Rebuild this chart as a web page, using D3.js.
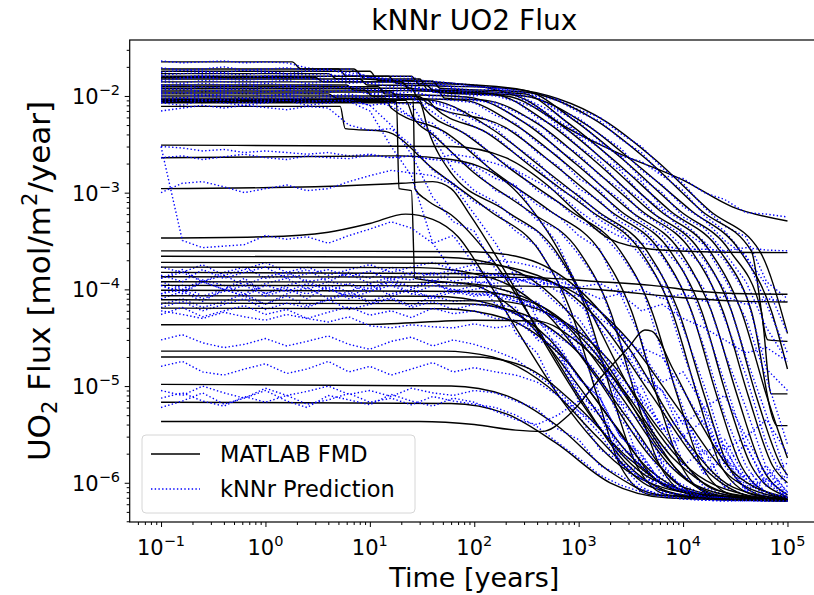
<!DOCTYPE html>
<html>
<head>
<meta charset="utf-8">
<script src="https://cdn.jsdelivr.net/npm/d3@7"></script>
<style>
  body { margin: 0; background: #fff; }
  text { font-family: "DejaVu Sans", sans-serif; fill: #000; }
</style>
</head>
<body>
<svg id="drawing_region" width="814" height="595"></svg>
<script>
// time points used by the kNNr predictions
const timeGrid = [0.1, 0.16, 0.25, 0.4, 0.63, 1, 1.6, 2.5, 4, 6.3, 10, 16, 25, 40, 63, 100, 160, 250, 400, 630,
                  1000, 1600, 2500, 4000, 6300, 1e4, 1.6e4, 2.5e4, 4e4, 6.3e4, 1e5];

// MATLAB FMD curves: [time, flux] knots
const fmdCurves = [
  [[0.1,2.25e-2],[1.8,2.25e-2],[2.2,1.9e-2],[7,1.9e-2],[9,1.5e-2],[58,1.36e-2],[140,1.2e-2],[340,8.7e-3],[660,5.2e-3],[2340,2.6e-3],[1e4,1.35e-3],[3e4,7.1e-4],[1e5,5.1e-4]],
  [[0.1,1.9e-2],[5,1.9e-2],[6,1.6e-2],[25,1.6e-2],[30,1.3e-2],[200,1.2e-2],[1800,5.5e-3],[5400,2.2e-3],[1.8e4,6.5e-4],[5.4e4,2.5e-4],[1e5,3.5e-5]],
  [[0.1,1.8e-2],[10,1.8e-2],[12,1.45e-2],[40,1.42e-2],[47,1.2e-2],[300,1.1e-2],[1500,5.5e-3],[4500,2.2e-3],[1.5e4,6.5e-4],[4.5e4,2.5e-4],[6.5e4,3e-5],[1e5,2.9e-5]],
  [[0.1,1.7e-2],[4,1.7e-2],[4.8,1.5e-2],[30,1.5e-2],[36,1.15e-2],[300,1.0e-2],[1200,5e-3],[3500,2e-3],[1.2e4,6.5e-4],[3.5e4,2.5e-4],[7e4,6e-5],[1e5,1.5e-5]],
  [[0.1,1.6e-2],[15,1.6e-2],[18,1.35e-2],[60,1.33e-2],[300,1.15e-2],[930,5.5e-3],[2800,2.1e-3],[9300,6.5e-4],[2.8e4,2.5e-4],[5.6e4,6e-5],[7e4,8.3e-6],[1e5,8.3e-6]],
  [[0.1,1.55e-2],[3,1.55e-2],[3.6,1.4e-2],[20,1.4e-2],[24,1.2e-2],[300,1.05e-2],[750,5.5e-3],[2250,2.1e-3],[7500,6.5e-4],[2.25e4,2.5e-4],[4.5e4,6e-5],[8e4,3.9e-6],[1e5,3.9e-6]],
  [[0.1,1.5e-2],[8,1.5e-2],[9.5,1.3e-2],[35,1.28e-2],[42,1.1e-2],[200,1.0e-2],[600,5.5e-3],[1800,2.1e-3],[6000,6.5e-4],[1.8e4,2.5e-4],[3.6e4,6e-5],[6.3e4,8e-6],[1e5,1.8e-6]],
  [[0.1,1.4e-2],[20,1.4e-2],[24,1.15e-2],[150,1.05e-2],[480,5.5e-3],[1450,2.1e-3],[4800,6.5e-4],[1.45e4,2.5e-4],[2.9e4,6e-5],[5e4,8e-6],[8.7e4,1.5e-6],[1e5,1.2e-6]],
  [[0.1,1.3e-2],[6,1.3e-2],[7,1.15e-2],[45,1.12e-2],[52,9.5e-3],[130,9e-3],[400,5.2e-3],[1200,2e-3],[4000,6.5e-4],[1.2e4,2.5e-4],[2.4e4,6e-5],[4.2e4,8e-6],[7.2e4,1.5e-6],[1e5,1e-6]],
  [[0.1,1.25e-2],[12,1.25e-2],[14,1.05e-2],[60,1.0e-2],[100,9.5e-3],[310,5.2e-3],[930,2e-3],[3100,6.5e-4],[9300,2.5e-4],[1.86e4,6e-5],[3.3e4,8e-6],[5.6e4,1.5e-6],[1e5,7.5e-7]],
  [[0.1,1.2e-2],[25,1.2e-2],[29,9.5e-3],[80,9e-3],[250,5e-3],[750,2e-3],[2500,6.5e-4],[7500,2.5e-4],[1.5e4,6e-5],[2.6e4,8e-6],[4.5e4,1.5e-6],[9e4,7.5e-7],[1e5,7.2e-7]],
  [[0.1,1.15e-2],[9,1.15e-2],[10.5,1.0e-2],[30,9.8e-3],[35,8.5e-3],[200,4.7e-3],[600,1.9e-3],[2000,6.5e-4],[6000,2.5e-4],[1.2e4,6e-5],[2.1e4,8e-6],[3.6e4,1.5e-6],[7.2e4,7.5e-7],[1e5,7e-7]],
  [[0.1,1.1e-2],[16,1.1e-2],[19,9.5e-3],[40,9e-3],[150,4.5e-3],[450,1.8e-3],[1500,6.5e-4],[4500,2.5e-4],[9000,6e-5],[1.6e4,8e-6],[2.7e4,1.5e-6],[5.4e4,7.5e-7],[1e5,6.8e-7]],
  [[0.1,1.05e-2],[4,1.05e-2],[4.8,9.5e-3],[35,9.2e-3],[42,7.5e-3],[130,4.2e-3],[390,1.7e-3],[1300,6.5e-4],[3900,2.5e-4],[7800,6e-5],[1.37e4,8e-6],[2.3e4,1.5e-6],[4.7e4,7.5e-7],[1e5,6.7e-7]],
  [[0.1,1.0e-2],[28,1.0e-2],[33,7.5e-3],[83,4e-3],[250,1.6e-3],[830,6.5e-4],[2500,2.5e-4],[5000,6e-5],[8800,8e-6],[1.5e4,1.5e-6],[3e4,7.5e-7],[1e5,6.6e-7]],
  [[0.1,9.5e-3],[14,9.5e-3],[16,7.5e-3],[53,4.2e-3],[160,1.6e-3],[530,6.5e-4],[1600,2.5e-4],[3200,6e-5],[5600,8e-6],[9600,1.5e-6],[1.9e4,7.5e-7],[1e5,6.6e-7]],
  [[0.1,9e-3],[22,9e-3],[26,6e-3],[40,4e-3],[100,1.6e-3],[330,6.5e-4],[1000,2.5e-4],[2000,6e-5],[3500,8e-6],[6000,1.5e-6],[1.2e4,7.5e-7],[1e5,6.6e-7]],
  [[0.1,8.5e-3],[30,8.5e-3],[36,4.5e-3],[60,1.6e-3],[200,6.5e-4],[600,2.5e-4],[1200,6e-5],[2100,8e-6],[3600,1.5e-6],[7200,7.5e-7],[1e5,6.6e-7]],
  [[0.1,7.8e-3],[5.2,7.8e-3],[5.8,4.6e-3],[14,4.3e-3],[42,1.7e-3],[140,6.5e-4],[420,2.5e-4],[840,6e-5],[1500,8e-6],[2500,1.5e-6],[5000,7.5e-7],[1e5,6.6e-7]],
  [[0.1,9.2e-3],[26,9.2e-3],[27,1.1e-3],[35,8.4e-4],[60,5.9e-4],[150,2e-4],[400,4e-5],[1000,8e-6],[3000,1.5e-6],[1e4,7.5e-7],[1e5,6.6e-7]],
  [[0.1,8.8e-3],[18,8.8e-3],[19,1.1e-3],[25,1.05e-3],[27,1.3e-4],[100,1.1e-4],[300,5e-5],[1000,1e-5],[3000,2e-6],[1e4,8e-7],[1e5,6.6e-7]],
  [[0.1,3.1e-3],[60,3.0e-3],[200,2.3e-3],[500,1.2e-3],[1000,6e-4],[2000,3.3e-4],[5000,2.6e-4],[1.5e4,2.45e-4],[1e5,2.4e-4]],
  [[0.1,2.3e-3],[20,2.4e-3],[60,2.2e-3],[200,1.3e-3],[500,4e-4],[1200,7e-5],[3000,1e-5],[1e4,1.6e-6],[4e4,7.5e-7],[1e5,6.7e-7]],
  [[0.1,1.1e-3],[3,1.15e-3],[20,1.25e-3],[40,1.3e-3],[60,1.1e-3],[90,6e-4],[200,1.5e-4],[500,2.5e-5],[1500,4e-6],[5000,1.1e-6],[3e4,7e-7],[1e5,6.6e-7]],
  [[0.1,3.4e-4],[1,3.5e-4],[4,3.9e-4],[10,4.8e-4],[22,6e-4],[40,5.3e-4],[70,3.5e-4],[120,1.5e-4],[250,4e-5],[700,7e-6],[2500,1.5e-6],[1e4,8e-7],[1e5,6.6e-7]],
  [[0.1,2.5e-4],[100,2.45e-4],[300,2.1e-4],[1000,1e-4],[3000,2.5e-5],[1e4,3e-6],[3e4,9e-7],[1e5,6.7e-7]],
  [[0.1,2.2e-4],[50,2.15e-4],[200,1.7e-4],[600,8e-5],[2000,1.5e-5],[6000,2.2e-6],[2e4,7.5e-7],[1e5,6.6e-7]],
  [[0.1,1.9e-4],[100,1.85e-4],[400,1.4e-4],[1500,5e-5],[5000,8e-6],[1.5e4,1.5e-6],[5e4,7e-7],[1e5,6.6e-7]],
  [[0.1,1.7e-4],[30,1.68e-4],[150,1.3e-4],[500,5.5e-5],[1500,1.2e-5],[5000,1.8e-6],[1.5e4,7.5e-7],[1e5,6.6e-7]],
  [[0.1,1.5e-4],[200,1.45e-4],[800,1e-4],[3000,3e-5],[1e4,5e-6],[3e4,1.1e-6],[1e5,6.8e-7]],
  [[0.1,1.35e-4],[300,1.33e-4],[1600,1.2e-4],[5000,1.1e-4],[1.5e4,9.5e-5],[4e4,9e-5],[1e5,8.9e-5]],
  [[0.1,1.2e-4],[60,1.18e-4],[250,9e-5],[800,4e-5],[2500,8e-6],[8000,1.4e-6],[3e4,7e-7],[1e5,6.6e-7]],
  [[0.1,1.1e-4],[300,1.08e-4],[1600,9.9e-5],[1e4,8.2e-5],[3e4,7.6e-5],[1e5,7.4e-5]],
  [[0.1,9.8e-5],[100,9.5e-5],[400,7e-5],[1300,2.5e-5],[4000,4.5e-6],[1.2e4,1e-6],[4e4,7e-7],[1e5,6.6e-7]],
  [[0.1,8.6e-5],[40,8.5e-5],[150,7e-5],[500,3.2e-5],[1500,7e-6],[5000,1.3e-6],[2e4,7e-7],[1e5,6.6e-7]],
  [[0.1,7.8e-5],[150,7.6e-5],[600,5.2e-5],[2000,1.8e-5],[6000,3.5e-6],[2e4,8.5e-7],[1e5,6.6e-7]],
  [[0.1,7.2e-5],[80,7.1e-5],[300,5.5e-5],[1000,2.2e-5],[3000,4.5e-6],[1e4,9e-7],[4e4,6.8e-7],[1e5,6.6e-7]],
  [[0.1,6.4e-5],[50,6.3e-5],[200,5e-5],[700,2e-5],[2200,4e-6],[7000,9e-7],[3e4,6.8e-7],[1e5,6.6e-7]],
  [[0.1,4.3e-5],[10,4.35e-5],[100,4.8e-5],[400,4.7e-5],[1000,2.8e-5],[2500,1e-5],[8000,1.8e-6],[3e4,7.5e-7],[1e5,6.6e-7]],
  [[0.1,2.3e-5],[50,2.3e-5],[150,2.0e-5],[500,1.0e-5],[1500,3e-6],[5000,9e-7],[2e4,6.8e-7],[1e5,6.6e-7]],
  [[0.1,2.0e-5],[100,2.0e-5],[300,1.6e-5],[1000,6e-6],[3000,1.8e-6],[1e4,8e-7],[1e5,6.6e-7]],
  [[0.1,1.04e-5],[60,1.0e-5],[200,8e-6],[600,4e-6],[2000,1.3e-6],[6000,7.5e-7],[1e5,6.5e-7]],
  [[0.1,6.8e-6],[60,6.6e-6],[200,5.2e-6],[600,2.6e-6],[2000,1.0e-6],[7000,7e-7],[1e5,6.5e-7]],
  [[0.1,4.3e-6],[30,4.3e-6],[100,4.0e-6],[250,3.5e-6],[450,3.4e-6],[800,5e-6],[1600,1.2e-5],[3000,2.5e-5],[4300,3.8e-5],[5000,3.7e-5],[8000,1.5e-5],[1.5e4,4e-6],[3e4,1.3e-6],[1e5,7e-7]]
];

// kNNr predictions on timeGrid, same order as fmdCurves
const knnCurves = [
  [2.3e-2,2.2e-2,2.25e-2,2.3e-2,2.2e-2,2.25e-2,2.2e-2,1.95e-2,1.85e-2,1.9e-2,1.55e-2,1.45e-2,1.4e-2,1.42e-2,1.35e-2,1.3e-2,1.2e-2,1.0e-2,7.8e-3,5.6e-3,4.1e-3,3.2e-3,2.4e-3,2.1e-3,1.5e-3,1.4e-3,1.0e-3,8.5e-4,6.2e-4,6e-4,5.6e-4],
  [1.95e-2,1.85e-2,1.9e-2,2.0e-2,1.85e-2,1.9e-2,1.95e-2,1.85e-2,1.9e-2,1.65e-2,1.55e-2,1.6e-2,1.58e-2,1.3e-2,1.25e-2,1.27e-2,1.2e-2,1.12e-2,1.05e-2,9.2e-3,7.2e-3,6e-3,4.1e-3,3e-3,1.8e-3,1.25e-3,7e-4,4.5e-4,3.5e-4,1.2e-4,8e-5],
  [1.75e-2,1.85e-2,1.8e-2,1.75e-2,1.85e-2,1.8e-2,1.7e-2,1.8e-2,1.85e-2,1.75e-2,1.6e-2,1.45e-2,1.5e-2,1.4e-2,1.2e-2,1.15e-2,1.17e-2,1.1e-2,1.0e-2,9e-3,6.8e-3,5.5e-3,3.6e-3,2.6e-3,1.5e-3,1.05e-3,5.8e-4,4e-4,2.2e-4,1.1e-4,3.5e-5],
  [1.65e-2,1.7e-2,1.75e-2,1.7e-2,1.65e-2,1.75e-2,1.7e-2,1.65e-2,1.7e-2,1.5e-2,1.55e-2,1.45e-2,1.5e-2,1.2e-2,1.1e-2,1.12e-2,1.05e-2,1.05e-2,9.5e-3,7.2e-3,5.9e-3,4.0e-3,2.9e-3,1.7e-3,1.2e-3,7.2e-4,5.2e-4,3.2e-4,2.2e-4,7e-5,2.2e-5],
  [1.6e-2,1.55e-2,1.65e-2,1.6e-2,1.55e-2,1.6e-2,1.65e-2,1.55e-2,1.6e-2,1.65e-2,1.55e-2,1.5e-2,1.35e-2,1.3e-2,1.35e-2,1.25e-2,1.2e-2,1.15e-2,9.8e-3,7e-3,5.4e-3,3.4e-3,2.4e-3,1.4e-3,1.0e-3,5.6e-4,4.3e-4,2.4e-4,1.2e-4,4e-5,1.8e-5],
  [1.5e-2,1.55e-2,1.6e-2,1.5e-2,1.55e-2,1.6e-2,1.5e-2,1.55e-2,1.45e-2,1.35e-2,1.4e-2,1.42e-2,1.25e-2,1.15e-2,1.18e-2,1.1e-2,1.1e-2,1.05e-2,8.2e-3,6.5e-3,4e-3,2.9e-3,1.8e-3,1.3e-3,7e-4,5e-4,3.1e-4,2e-4,9e-5,1.5e-5,9e-6],
  [1.45e-2,1.5e-2,1.55e-2,1.5e-2,1.45e-2,1.5e-2,1.55e-2,1.5e-2,1.45e-2,1.5e-2,1.35e-2,1.25e-2,1.3e-2,1.1e-2,1.1e-2,1.0e-2,1.05e-2,8.8e-3,7.5e-3,5e-3,3.8e-3,2.3e-3,1.7e-3,9.5e-4,6.6e-4,4e-4,2.9e-4,1.3e-4,5e-5,1.2e-5,2.5e-6],
  [1.4e-2,1.35e-2,1.45e-2,1.4e-2,1.35e-2,1.4e-2,1.45e-2,1.35e-2,1.4e-2,1.45e-2,1.35e-2,1.4e-2,1.2e-2,1.1e-2,1.12e-2,1.05e-2,1.0e-2,8.8e-3,6e-3,4.7e-3,3e-3,2.1e-3,1.2e-3,8.5e-4,5e-4,3.6e-4,2e-4,1e-4,2e-5,5e-6,1.1e-6],
  [1.3e-2,1.25e-2,1.35e-2,1.3e-2,1.25e-2,1.35e-2,1.3e-2,1.25e-2,1.3e-2,1.2e-2,1.15e-2,1.1e-2,1.18e-2,1.12e-2,9.6e-3,9e-3,8.6e-3,6.8e-3,5.4e-3,3.4e-3,2.5e-3,1.5e-3,1.1e-3,6.2e-4,4.5e-4,2.7e-4,1.7e-4,5e-5,1.3e-5,2.5e-6,9e-7],
  [1.25e-2,1.3e-2,1.2e-2,1.25e-2,1.3e-2,1.2e-2,1.25e-2,1.3e-2,1.2e-2,1.25e-2,1.2e-2,1.05e-2,1.1e-2,1.0e-2,1.03e-2,9.2e-3,8.2e-3,6e-3,4.5e-3,2.8e-3,2e-3,1.2e-3,8.5e-4,5e-4,3.6e-4,2e-4,1e-4,2.2e-5,6e-6,1.4e-6,8e-7],
  [1.2e-2,1.15e-2,1.25e-2,1.2e-2,1.15e-2,1.2e-2,1.25e-2,1.15e-2,1.2e-2,1.25e-2,1.15e-2,1.2e-2,1.15e-2,9.5e-3,9e-3,8.5e-3,6.3e-3,5.2e-3,3.3e-3,2.4e-3,1.4e-3,1.05e-3,6e-4,4.4e-4,2.7e-4,1.6e-4,4.5e-5,1.1e-5,2.4e-6,1e-6,7e-7],
  [1.15e-2,1.2e-2,1.1e-2,1.15e-2,1.2e-2,1.1e-2,1.15e-2,1.2e-2,1.1e-2,1.15e-2,1.05e-2,1.0e-2,9.5e-3,8.6e-3,7.2e-3,6.7e-3,5e-3,4.2e-3,2.6e-3,1.9e-3,1.1e-3,8.2e-4,5e-4,3.8e-4,2.2e-4,1e-4,2.5e-5,5e-6,1.5e-6,7.5e-7,7.2e-7],
  [1.1e-2,1.05e-2,1.15e-2,1.1e-2,1.05e-2,1.1e-2,1.15e-2,1.05e-2,1.1e-2,1.15e-2,1.05e-2,1.1e-2,9.8e-3,8.8e-3,7.8e-3,5.6e-3,4.6e-3,3e-3,2.1e-3,1.25e-3,9.5e-4,6e-4,4.4e-4,2.6e-4,1.4e-4,4e-5,1e-5,2.2e-6,1e-6,7.5e-7,7e-7],
  [1.05e-2,1.1e-2,1.0e-2,1.05e-2,1.1e-2,1.0e-2,1.05e-2,1.1e-2,1.0e-2,9.8e-3,9.2e-3,9.6e-3,9.3e-3,7.8e-3,6.5e-3,4.8e-3,3.8e-3,2.5e-3,1.8e-3,1.1e-3,8.5e-4,5.2e-4,3.9e-4,2.2e-4,1.1e-4,2.2e-5,5.5e-6,1.5e-6,8.5e-7,7.2e-7,6.8e-7],
  [1.0e-2,9.5e-3,1.05e-2,1.0e-2,9.5e-3,1.0e-2,1.05e-2,9.5e-3,1.0e-2,1.05e-2,9.5e-3,1.0e-2,9.8e-3,6.8e-3,4.8e-3,3.6e-3,2.3e-3,1.7e-3,1.05e-3,8e-4,5.2e-4,4e-4,2.3e-4,1.1e-4,2.2e-5,6e-6,1.6e-6,9e-7,7.5e-7,6.9e-7,6.6e-7],
  [9.5e-3,9e-3,1.0e-2,9.5e-3,9e-3,9.5e-3,1.0e-2,9e-3,9.5e-3,1.0e-2,9.2e-3,7.8e-3,6e-3,5.2e-3,3.4e-3,2.6e-3,1.5e-3,1.15e-3,7.5e-4,5.8e-4,3.6e-4,2.6e-4,9e-5,3e-5,6e-6,1.6e-6,9e-7,7.5e-7,6.8e-7,6.7e-7,6.5e-7],
  [9e-3,9.5e-3,8.5e-3,9e-3,9.5e-3,8.5e-3,9e-3,9.5e-3,8.5e-3,9e-3,9.5e-3,8.8e-3,6e-3,4.2e-3,2.5e-3,1.7e-3,1.05e-3,8.5e-4,5.2e-4,4.2e-4,2.3e-4,1.1e-4,2.8e-5,7e-6,1.5e-6,8.5e-7,7.2e-7,6.8e-7,6.6e-7,6.5e-7,6.6e-7],
  [8.5e-3,8e-3,9e-3,8.5e-3,8e-3,8.5e-3,9e-3,8e-3,8.5e-3,9e-3,8e-3,8.5e-3,8.2e-3,3.8e-3,1.7e-3,1.05e-3,8e-4,5.2e-4,4e-4,2.2e-4,1e-4,2e-5,6e-6,1.4e-6,8.5e-7,7e-7,6.8e-7,6.6e-7,6.5e-7,6.6e-7,6.5e-7],
  [7e-3,7.5e-3,8e-3,7.5e-3,8e-3,7.6e-3,7.2e-3,7.8e-3,7.5e-3,5e-3,4.4e-3,4.6e-3,3.1e-3,1.7e-3,1.25e-3,8e-4,6.3e-4,4e-4,2.8e-4,1.2e-4,2.6e-5,8e-6,1.6e-6,9e-7,7.2e-7,6.8e-7,6.6e-7,6.5e-7,6.6e-7,6.5e-7,6.6e-7],
  [9e-3,9.5e-3,9.2e-3,8.8e-3,9.4e-3,9e-3,9.5e-3,9e-3,8.8e-3,9.2e-3,8e-3,5e-3,2.5e-3,9e-4,5e-4,4e-4,1.6e-4,1.1e-4,3.5e-5,2.2e-5,7e-6,5e-6,1.6e-6,1.3e-6,8e-7,7.5e-7,7e-7,6.8e-7,6.6e-7,6.7e-7,6.5e-7],
  [8.6e-3,9e-3,8.8e-3,9.2e-3,8.5e-3,8.8e-3,9e-3,8.6e-3,9e-3,8.8e-3,7e-3,3e-3,1.5e-3,3e-4,1.5e-4,1.3e-4,7e-5,6.5e-5,3e-5,2.4e-5,8e-6,5.5e-6,2.2e-6,1.8e-6,1e-6,8.5e-7,7e-7,6.8e-7,6.6e-7,6.5e-7,6.6e-7],
  [3.0e-3,2.9e-3,2.7e-3,2.8e-3,2.6e-3,2.7e-3,2.6e-3,2.5e-3,2.6e-3,2.4e-3,2.5e-3,2.3e-3,2.4e-3,2.2e-3,2.5e-3,2.3e-3,2e-3,1.7e-3,1.3e-3,1e-3,6.5e-4,4.5e-4,3.5e-4,3e-4,2.8e-4,2.6e-4,2.6e-4,2.5e-4,2.7e-4,2.55e-4,2.5e-4],
  [2.3e-3,2.4e-3,2.2e-3,2.35e-3,2.5e-3,2.3e-3,2.2e-3,2.4e-3,2.3e-3,2.25e-3,2.45e-3,2.3e-3,2.4e-3,2.2e-3,2.1e-3,1.9e-3,1.4e-3,1.2e-3,5.5e-4,3e-4,1e-4,4e-5,2e-5,7e-6,4e-6,1.5e-6,2.2e-6,9e-7,1.2e-6,7e-7,8e-7],
  [1.0e-3,1.25e-3,1.3e-3,1.15e-3,1.0e-3,1.1e-3,1.2e-3,1.05e-3,1.1e-3,1.3e-3,1.5e-3,1.7e-3,1.6e-3,1.5e-3,1.2e-3,6e-4,3e-4,1.3e-4,5e-5,2.5e-5,9e-6,5e-6,2.5e-6,1.5e-6,1.1e-6,8e-7,7.5e-7,7e-7,6.7e-7,6.6e-7,6.5e-7],
  [3.0e-3,3.2e-4,2.7e-4,2.8e-4,2.9e-4,3.6e-4,3.3e-4,3.5e-4,3.0e-4,3.6e-4,4.2e-4,5e-4,4.3e-4,3.0e-4,3.6e-4,1.8e-4,1.0e-4,3.5e-5,2.2e-5,8e-6,5e-6,2.2e-6,1.7e-6,1.1e-6,1e-6,8e-7,7.2e-7,6.8e-7,6.6e-7,6.5e-7,6.6e-7],
  [1.7e-4,1.5e-4,1.8e-4,1.4e-4,1.6e-4,1.9e-4,1.5e-4,1.7e-4,1.4e-4,1.6e-4,1.8e-4,1.5e-4,1.7e-4,1.9e-4,1.6e-4,1.8e-4,2e-4,1.9e-4,1.7e-4,1.4e-4,9e-5,5e-5,3.6e-5,1.4e-5,9e-6,3e-6,4.5e-6,1.6e-6,2.5e-6,9e-7,1.2e-6],
  [1.3e-4,1.6e-4,1.2e-4,1.5e-4,1.7e-4,1.3e-4,1.4e-4,1.6e-4,1.2e-4,1.5e-4,1.3e-4,1.7e-4,1.4e-4,1.2e-4,1.5e-4,1.6e-4,1.4e-4,1.3e-4,1.1e-4,7e-5,5e-5,2.4e-5,1.1e-5,6e-6,2e-6,3e-6,1.2e-6,1.8e-6,8e-7,1.1e-6,7e-7],
  [1.1e-4,9.5e-5,1.2e-4,1.0e-4,1.3e-4,9e-5,1.1e-4,1.25e-4,9.5e-5,1.15e-4,1.0e-4,1.3e-4,1.05e-4,1.2e-4,9.5e-5,1.1e-4,1.3e-4,1.5e-4,1.2e-4,1.1e-4,7e-5,4.5e-5,2.8e-5,1.2e-5,9e-6,4e-6,6e-6,2.2e-6,3e-6,1.2e-6,1.6e-6],
  [9e-5,1.1e-4,8.5e-5,1.0e-4,1.2e-4,9e-5,1.05e-4,8e-5,1.1e-4,9.5e-5,1.15e-4,8.5e-5,1.0e-4,1.2e-4,9e-5,1.0e-4,1.1e-4,8.5e-5,6.5e-5,4.8e-5,2.2e-5,1.3e-5,4.5e-6,2.7e-6,1.2e-6,9.5e-7,7.5e-7,7e-7,6.7e-7,6.6e-7,6.5e-7],
  [1.3e-4,1.5e-4,1.2e-4,1.4e-4,1.1e-4,1.35e-4,1.5e-4,1.2e-4,1.3e-4,1.45e-4,1.15e-4,1.35e-4,1.25e-4,1.5e-4,1.2e-4,1.35e-4,1.4e-4,1.25e-4,1.3e-4,9.5e-5,8.5e-5,6e-5,3.5e-5,2.2e-5,1.1e-5,1.4e-5,6e-6,8e-6,3e-6,4.5e-6,2e-6],
  [1.2e-4,1.0e-4,1.25e-4,1.1e-4,9e-5,1.15e-4,1.3e-4,1.0e-4,1.2e-4,1.1e-4,9.5e-5,1.2e-4,1.05e-4,1.25e-4,1.1e-4,1.2e-4,1.15e-4,1.3e-4,1.1e-4,1.2e-4,1.05e-4,1.15e-4,9e-5,1.0e-4,8e-5,9e-5,7.5e-5,8.5e-5,7e-5,8e-5,7.5e-5],
  [8e-5,9.5e-5,7.5e-5,1.0e-4,8.5e-5,7e-5,9e-5,1.05e-4,8e-5,9.5e-5,7.5e-5,9e-5,1.0e-4,8e-5,9.5e-5,8.5e-5,9e-5,8e-5,6e-5,5.2e-5,2.8e-5,1.8e-5,7e-6,4.2e-6,1.7e-6,1.2e-6,8e-7,7.6e-7,6.8e-7,6.7e-7,6.5e-7],
  [1.4e-4,1.2e-4,1.6e-4,1.3e-4,1.5e-4,1.7e-4,1.3e-4,1.45e-4,1.6e-4,1.35e-4,1.55e-4,1.25e-4,1.5e-4,1.4e-4,1.6e-4,1.3e-4,1.45e-4,1.2e-4,1.3e-4,1.1e-4,1.0e-4,8e-5,9e-5,6e-5,7e-5,5e-5,4e-5,3e-5,2.2e-5,2.5e-5,1.8e-5],
  [1.1e-4,9e-5,1.2e-4,1.0e-4,8.5e-5,1.1e-4,9.5e-5,1.15e-4,1.0e-4,8.5e-5,1.05e-4,1.2e-4,9e-5,1.1e-4,1.0e-4,8.8e-5,9.5e-5,7.5e-5,7.5e-5,4.5e-5,3.6e-5,2e-5,9e-6,6e-6,2.2e-6,3.2e-6,1.3e-6,1.9e-6,8.5e-7,1.1e-6,7.5e-7],
  [7e-5,8e-5,6.5e-5,7.5e-5,9e-5,7e-5,8.5e-5,6.8e-5,7.8e-5,9e-5,7.2e-5,8.2e-5,6.8e-5,8.5e-5,7.5e-5,7.8e-5,6.5e-5,5.8e-5,3.6e-5,2.8e-5,1.2e-5,7.5e-6,3e-6,1.9e-6,1e-6,9e-7,7.2e-7,7e-7,6.6e-7,6.6e-7,6.5e-7],
  [9e-5,1.0e-4,8e-5,9.5e-5,1.1e-4,8.5e-5,1.0e-4,9e-5,1.05e-4,8e-5,9.5e-5,1.1e-4,9e-5,8.5e-5,1.0e-4,9e-5,8.5e-5,7.5e-5,6.5e-5,4.8e-5,3.9e-5,2.4e-5,1.2e-5,8e-6,3.5e-6,5e-6,2e-6,2.8e-6,1.1e-6,1.5e-6,8e-7],
  [6.5e-5,7.5e-5,6e-5,7e-5,8e-5,6.2e-5,7.2e-5,6.5e-5,7.8e-5,6.2e-5,7e-5,8e-5,6.5e-5,7.5e-5,6.2e-5,7e-5,6.6e-5,5.5e-5,5e-5,3.2e-5,2.4e-5,1.1e-5,6.8e-6,2.7e-6,1.6e-6,8.5e-7,7.8e-7,6.9e-7,6.8e-7,6.6e-7,6.5e-7],
  [5.5e-5,6.5e-5,5.2e-5,6e-5,6.8e-5,5.5e-5,6.2e-5,5e-5,5.8e-5,6.6e-5,5.4e-5,6e-5,5.1e-5,6.4e-5,5.6e-5,6e-5,5e-5,4.8e-5,3.2e-5,2.5e-5,1.2e-5,7.5e-6,3e-6,2e-6,9.5e-7,8.5e-7,7e-7,7e-7,6.6e-7,6.6e-7,6.5e-7],
  [6e-5,5.5e-5,5e-5,5.8e-5,5.2e-5,4.8e-5,5.5e-5,5e-5,4.6e-5,5.2e-5,4.2e-5,4e-5,4.3e-5,4.1e-5,4e-5,4.4e-5,4e-5,4.3e-5,4.5e-5,3.5e-5,3e-5,2e-5,8e-6,1e-5,3.5e-6,4.5e-6,1.6e-6,2.4e-6,9e-7,1.3e-6,7.5e-7],
  [3e-5,3.4e-5,2.8e-5,2.5e-5,2.7e-5,3.1e-5,2.6e-5,2.9e-5,3.3e-5,2.7e-5,2.4e-5,2.9e-5,3.2e-5,2.6e-5,3e-5,2.7e-5,2.3e-5,1.9e-5,1.3e-5,9e-6,5.5e-6,3.2e-6,1.6e-6,1.1e-6,8e-7,7.6e-7,7e-7,6.7e-7,6.6e-7,6.6e-7,6.5e-7],
  [1.6e-5,1.8e-5,1.4e-5,1.3e-5,1.5e-5,1.7e-5,1.35e-5,1.5e-5,1.8e-5,1.4e-5,1.6e-5,1.3e-5,1.5e-5,1.75e-5,1.4e-5,1.55e-5,1.4e-5,1.3e-5,1.1e-5,8e-6,5.5e-6,3.8e-6,2e-6,1.5e-6,9.5e-7,8.2e-7,7.2e-7,7e-7,6.6e-7,6.6e-7,6.5e-7],
  [9e-6,8e-6,1.0e-5,8.5e-6,7.5e-6,9.5e-6,8e-6,8.8e-6,1.0e-5,8.2e-6,9e-6,7.8e-6,9.5e-6,8.5e-6,8e-6,9e-6,8.5e-6,7e-6,5.8e-6,3.6e-6,2.8e-6,1.5e-6,1.2e-6,8.5e-7,7.6e-7,6.9e-7,6.7e-7,6.6e-7,6.5e-7,6.6e-7,6.5e-7],
  [7.5e-6,8.5e-6,7e-6,6.2e-6,7.8e-6,6.8e-6,8e-6,6.5e-6,7.2e-6,8.4e-6,6.8e-6,7.5e-6,6.4e-6,7.8e-6,7e-6,6.5e-6,6e-6,5e-6,3.8e-6,2.6e-6,1.8e-6,1.2e-6,9.5e-7,8e-7,7.2e-7,6.8e-7,6.6e-7,6.5e-7,6.6e-7,6.5e-7,6.5e-7],
  [6e-6,7e-6,8.5e-6,6.5e-6,7.5e-6,9e-6,7e-6,6e-6,8e-6,7.2e-6,6.4e-6,8.2e-6,7e-6,6.2e-6,7.5e-6,6.8e-6,5.5e-6,4.5e-6,4e-6,5e-6,7e-6,1.1e-5,1.6e-5,2.5e-5,2e-5,9e-6,4e-6,1.8e-6,1.1e-6,8e-7,7e-7]
];

const xTickValues = [1e-1, 1e0, 1e1, 1e2, 1e3, 1e4, 1e5];
const xTickExponents = ["\u22121", "0", "1", "2", "3", "4", "5"];
const yTickValues = [1e-6, 1e-5, 1e-4, 1e-3, 1e-2];
const yTickExponents = ["\u22126", "\u22125", "\u22124", "\u22123", "\u22122"];
const legendLabels = ["MATLAB FMD", "kNNr Prediction"];

const config = {
    width: 814,
    height: 595,
    plot: {left: 129.7, right: 818.8, top: 40, bottom: 522},
    xDomain: [0.0501, 199500],
    yDomain: [3.93e-7, 0.0379]
};

const svg = d3.select('#drawing_region')
    .attr('width', config.width)
    .attr('height', config.height);

const xscale = d3.scaleLog()
    .domain(config.xDomain)
    .range([config.plot.left, config.plot.right]);

const yscale = d3.scaleLog()
    .domain(config.yDomain)
    .range([config.plot.bottom, config.plot.top]);

svg.append('defs').append('clipPath').attr('id', 'clip')
    .append('rect')
    .attr('x', config.plot.left).attr('y', config.plot.top)
    .attr('width', config.plot.right - config.plot.left)
    .attr('height', config.plot.bottom - config.plot.top);

const lines = svg.append('g').attr('clip-path', 'url(#clip)');

const fmdLine = d3.line()
    .x(d => xscale(d[0]))
    .y(d => yscale(d[1]))
    .curve(d3.curveMonotoneX);

const knnLine = d3.line()
    .x((d, i) => xscale(timeGrid[i]))
    .y(d => yscale(d));

// each FMD curve followed by its prediction, as plotted pair by pair
fmdCurves.forEach((curve, i) => {
    lines.append('path')
        .attr('d', fmdLine(curve))
        .attr('fill', 'none')
        .attr('stroke', '#000')
        .attr('stroke-width', 1.4);
    lines.append('path')
        .attr('d', knnLine(knnCurves[i]))
        .attr('fill', 'none')
        .attr('stroke', '#0000ff')
        .attr('stroke-width', 1.4)
        .attr('stroke-dasharray', '1.4,2.3');
});

// minor ticks
const xMinor = [], yMinor = [];
for (let e = -2; e <= 5; e++) {
    for (let k = 2; k <= 9; k++) {
        const v = k * Math.pow(10, e);
        if (v > config.xDomain[0] && v < config.xDomain[1]) xMinor.push(v);
    }
}
for (let e = -7; e <= -2; e++) {
    for (let k = 2; k <= 9; k++) {
        const v = k * Math.pow(10, e);
        if (v > config.yDomain[0] && v < config.yDomain[1]) yMinor.push(v);
    }
}

const xaxis_group = svg.append('g')
    .attr('transform', `translate(0, ${config.plot.bottom})`);
xaxis_group.append('g').call(d3.axisBottom(xscale).tickValues(xTickValues).tickSize(5).tickFormat(''));
xaxis_group.append('g').call(d3.axisBottom(xscale).tickValues(xMinor).tickSize(3).tickFormat(''));

const yaxis_group = svg.append('g')
    .attr('transform', `translate(${config.plot.left}, 0)`);
yaxis_group.append('g').call(d3.axisLeft(yscale).tickValues(yTickValues).tickSize(5).tickFormat(''));
yaxis_group.append('g').call(d3.axisLeft(yscale).tickValues(yMinor).tickSize(3).tickFormat(''));

svg.selectAll('.domain').remove();
svg.selectAll('.tick line').attr('stroke', '#000').attr('stroke-width', 1);

// spines
svg.append('rect')
    .attr('x', config.plot.left).attr('y', config.plot.top)
    .attr('width', config.plot.right - config.plot.left)
    .attr('height', config.plot.bottom - config.plot.top)
    .attr('fill', 'none').attr('stroke', '#000').attr('stroke-width', 1.2);

// tick labels
xTickValues.forEach((v, i) => {
    const t = svg.append('text')
        .attr('x', xscale(v)).attr('y', 555)
        .attr('text-anchor', 'middle')
        .style('font-size', '21px');
    t.append('tspan').text('10');
    t.append('tspan').attr('dy', -9).style('font-size', '14.5px').text(xTickExponents[i]);
});

yTickValues.forEach((v, i) => {
    const t = svg.append('text')
        .attr('x', 120).attr('y', yscale(v) + 8)
        .attr('text-anchor', 'end')
        .style('font-size', '21px');
    t.append('tspan').text('10');
    t.append('tspan').attr('dy', -9).style('font-size', '14.5px').text(yTickExponents[i]);
});

// title and axis labels
svg.append('text')
    .attr('x', (config.plot.left + config.plot.right) / 2).attr('y', 30)
    .attr('text-anchor', 'middle')
    .style('font-size', '28px')
    .text('kNNr UO2 Flux');

svg.append('text')
    .attr('x', (config.plot.left + config.plot.right) / 2).attr('y', 587)
    .attr('text-anchor', 'middle')
    .style('font-size', '27px')
    .text('Time [years]');

const ylab = svg.append('text')
    .attr('transform', `translate(50, ${(config.plot.top + config.plot.bottom) / 2}) rotate(-90)`)
    .attr('text-anchor', 'middle')
    .style('font-size', '31px');
ylab.append('tspan').text('UO');
ylab.append('tspan').attr('dy', 7).style('font-size', '21px').text('2');
ylab.append('tspan').attr('dy', -7).text(' Flux [mol/m');
ylab.append('tspan').attr('dy', -13).style('font-size', '21px').text('2');
ylab.append('tspan').attr('dy', 13).text('/year]');

// legend
const legend = svg.append('g');
legend.append('rect')
    .attr('x', 142).attr('y', 435).attr('width', 273).attr('height', 78)
    .attr('rx', 4).attr('fill', '#fff').attr('fill-opacity', 0.8)
    .attr('stroke', '#d6d6d6').attr('stroke-width', 1);
legend.append('line')
    .attr('x1', 151).attr('x2', 200).attr('y1', 454).attr('y2', 454)
    .attr('stroke', '#000').attr('stroke-width', 1.4);
legend.append('line')
    .attr('x1', 151).attr('x2', 200).attr('y1', 489).attr('y2', 489)
    .attr('stroke', '#0000ff').attr('stroke-width', 1.4).attr('stroke-dasharray', '1.4,2.3');
legendLabels.forEach((label, i) => {
    legend.append('text')
        .attr('x', 220).attr('y', 462 + i * 35)
        .style('font-size', '22.5px')
        .text(label);
});
</script>
</body>
</html>
